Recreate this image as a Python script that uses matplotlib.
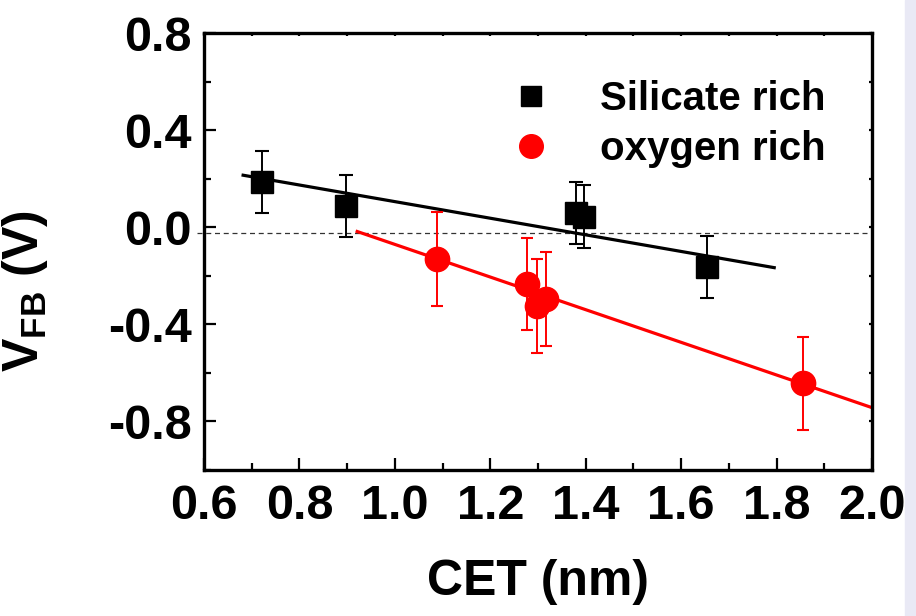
import numpy as np
import matplotlib.pyplot as plt
from matplotlib.patches import Rectangle

plt.rcParams['font.family'] = 'Liberation Sans'
plt.rcParams['font.weight'] = 'bold'
plt.rcParams['mathtext.fontset'] = 'custom'
plt.rcParams['mathtext.rm'] = 'Liberation Sans:bold'
plt.rcParams['mathtext.bf'] = 'Liberation Sans:bold'

# silicate rich samples
cet_si = [0.722, 0.898, 1.380, 1.397, 1.655]
vfb_si = [0.186, 0.087, 0.058, 0.043, -0.165]
err_si = [0.127, 0.128, 0.128, 0.130, 0.128]

# oxygen rich samples
cet_ox = [1.088, 1.277, 1.298, 1.317, 1.856]
vfb_ox = [-0.130, -0.232, -0.325, -0.296, -0.643]
err_ox = [0.193, 0.190, 0.193, 0.193, 0.193]

# linear fits (end points)
fit_si_x = [0.682, 1.795]
fit_si_y = [0.215, -0.166]
fit_ox_x = [0.921, 2.0]
fit_ox_y = [-0.017, -0.743]

zero_x = [0.585, 2.0]
zero_y = [-0.025, -0.025]

fig = plt.figure(figsize=(9.16, 6.16), dpi=100)
fig.patches.append(Rectangle((0.988, 0), 0.012, 1, transform=fig.transFigure,
                             color='#e9e9f5', zorder=0))
ax = fig.add_axes([0.2227, 0.237, 0.7293, 0.709])

ax.plot(zero_x, zero_y, '--', color='#333333', lw=0.9, dashes=(4, 3), clip_on=False, zorder=1)
ax.plot(fit_si_x, fit_si_y, '-', color='black', lw=2.3, zorder=2)
ax.plot(fit_ox_x, fit_ox_y, '-', color='red', lw=2.3, zorder=2)

ax.errorbar(cet_si, vfb_si, yerr=err_si, fmt='none', ecolor='black',
            elinewidth=1.4, capsize=4.7, capthick=1.5, zorder=3)
ax.errorbar(cet_ox, vfb_ox, yerr=err_ox, fmt='none', ecolor='red',
            elinewidth=1.4, capsize=4.2, capthick=1.5, zorder=3)
ax.plot(cet_si, vfb_si, 's', color='black', ms=16.5, ls='none',
        label='Silicate rich', zorder=4)
ax.plot(cet_ox, vfb_ox, 'o', color='red', ms=17.5, ls='none',
        label='oxygen rich', zorder=4)

ax.set_xlim(0.6, 2.0)
ax.set_ylim(-1.0, 0.8)
ax.set_xticks(np.arange(0.6, 2.01, 0.2))
ax.set_xticks(np.arange(0.7, 2.0, 0.2), minor=True)
ax.set_yticks([-0.8, -0.4, 0.0, 0.4, 0.8])
ax.set_yticks([-1.0, -0.6, -0.2, 0.2, 0.6], minor=True)
ax.xaxis.set_major_formatter(plt.FormatStrFormatter('%.1f'))
ax.yaxis.set_major_formatter(plt.FormatStrFormatter('%.1f'))

for s in ax.spines.values():
    s.set_linewidth(2.4)
ax.tick_params(which='major', direction='in', length=8.5, width=1.6,
               labelsize=35, pad=9)
ax.tick_params(which='minor', direction='in', length=5, width=1.6)
ax.tick_params(which='both', top=True, right=True)
ax.tick_params(which='both', axis='x', pad=10)
for t in ax.xaxis.get_major_ticks() + ax.xaxis.get_minor_ticks():
    t.tick2line.set_markersize(2)
for t in ax.yaxis.get_major_ticks() + ax.yaxis.get_minor_ticks():
    t.tick2line.set_markersize(2)

ax.set_xlabel('CET (nm)', fontsize=36, fontweight='bold', labelpad=22)
ax.set_ylabel(r'V$_\mathrm{FB}$ (V)', fontsize=36, fontweight='bold')
ax.yaxis.set_label_coords(-0.23, 0.41)

leg = ax.legend(loc='upper left', bbox_to_anchor=(0.46, 0.893), frameon=False,
                fontsize=29, handlelength=1.0, handletextpad=1.2,
                labelspacing=0.3, borderpad=0, borderaxespad=0)
leg.legend_handles[0].set_markersize(14)
leg.legend_handles[1].set_markersize(17)

plt.savefig('out.png', dpi=100)
